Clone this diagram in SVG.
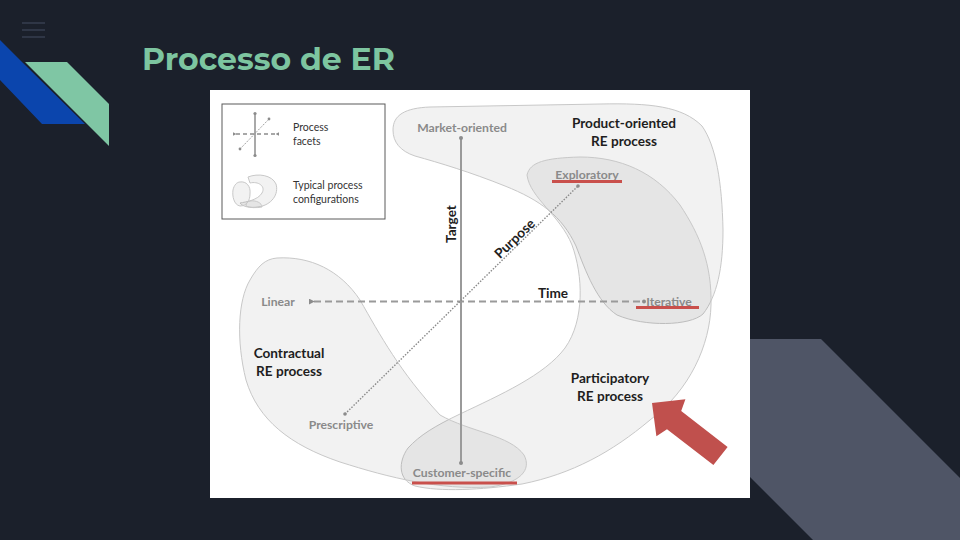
<svg xmlns="http://www.w3.org/2000/svg" width="960" height="540" viewBox="0 0 960 540">
  <style>
    .bold { font-family: Lato, "Open Sans", sans-serif; font-weight: 700; fill: #1e1e1e; font-size: 13.6px; }
    .grey { font-family: Lato, "Open Sans", sans-serif; font-weight: 700; fill: #8a8a8a; font-size: 12.2px; }
    .leg { font-family: Lato, "Open Sans", sans-serif; font-weight: 400; fill: #333; font-size: 10.5px; }
    .blob { fill: #000; fill-opacity: 0.05; stroke: #c8c8c8; stroke-width: 1; }
    .ul { stroke: #c9504c; stroke-width: 3; }
    .dot { fill: #8c8c8c; }
  </style>
  <defs>
    <marker id="arrL" viewBox="0 0 8 8" refX="1" refY="4" markerWidth="3" markerHeight="3" orient="auto-start-reverse">
      <path d="M8,0 L0,4 L8,8 Z" fill="#8c8c8c"/>
    </marker>
  </defs>

  <!-- background -->
  <rect x="0" y="0" width="960" height="540" fill="#1b202b"/>
  <g id="menu-icon" stroke="#2f3646" stroke-width="2">
    <line x1="22" y1="23" x2="45" y2="23"/>
    <line x1="22" y1="30" x2="45" y2="30"/>
    <line x1="22" y1="37" x2="45" y2="37"/>
  </g>
  <polygon id="stripe-blue" points="0,40 22,62 85,124 42,124 0,80" fill="#0b45ad"/>
  <polygon id="stripe-green" points="25,62 67,62 109,104 109,146" fill="#7fc6a4"/>
  <polygon id="stripe-grey" points="700,339 821,339 960,478 960,540 813,540 700,427" fill="#4f5566"/>
  <text id="title" x="142" y="70" font-family="Montserrat, 'Open Sans', sans-serif" font-weight="700" font-size="31.5" fill="#7dc5a0">Processo de ER</text>

  <!-- image panel -->
  <rect id="panel" x="210" y="90" width="540" height="408" fill="#ffffff"/>

  <!-- legend -->
  <g id="legend">
    <rect x="222" y="104" width="163" height="115" fill="none" stroke="#5a5a5a" stroke-width="1"/>
    <line x1="255" y1="114" x2="255" y2="155" stroke="#8c8c8c" stroke-width="1.5"/>
    <circle cx="255" cy="113.5" r="1.6" class="dot"/>
    <circle cx="255" cy="155.5" r="1.6" class="dot"/>
    <line x1="236" y1="134" x2="276" y2="134" stroke="#8c8c8c" stroke-width="1.3" stroke-dasharray="4,3" marker-start="url(#arrL)" marker-end="url(#arrL)"/>
    <line x1="240" y1="149" x2="269" y2="119" stroke="#8c8c8c" stroke-width="1" stroke-dasharray="1.2,1.2"/>
    <circle cx="240" cy="149" r="1.4" class="dot"/>
    <circle cx="269" cy="119" r="1.4" class="dot"/>
    <text class="leg" x="293" y="131">Process</text>
    <text class="leg" x="293" y="145">facets</text>
    <path class="blob" d="M248,177 C258,173 272,175 276,184 C279,194 272,205 258,207 C250,208 243,207 240,203 C246,202 258,200 262,193 C266,186 258,181 250,183 Z"/>
    <path class="blob" d="M240,182 C246,181 251,186 250,194 C250,200 247,206 240,206 C234,205 232,196 233,190 C234,185 237,182 240,182 Z"/>
    <path class="blob" d="M250,201 C256,200 262,203 262,207 C256,208 250,208 246,206 C246,203 248,201 250,201 Z"/>
    <text class="leg" x="293" y="189">Typical process</text>
    <text class="leg" x="293" y="203">configurations</text>
  </g>

  <!-- configurations -->
  <g id="product-oriented">
    <path class="blob" d="M393,130 C393,115 405,108 430,107 L600,104 C650,103 682,106 702,126 C716,146 722,182 723,230 C723,268 717,296 703,314 C690,326 645,327 617,315 C597,302 586,272 576,246 C562,216 540,200 505,186 C470,172 440,163 415,156 C400,151 393,142 393,130 Z"/>
    <text class="bold" x="624" y="128" text-anchor="middle">Product-oriented</text>
    <text class="bold" x="624" y="146" text-anchor="middle">RE process</text>
  </g>
  <g id="participatory">
    <path class="blob" d="M527,175 C530,162 545,158 580,157 C620,157 655,172 680,205 C700,235 712,265 711,305 C710,345 690,390 650,420 C612,452 572,474 522,484 C480,490 440,492 415,486 C398,480 398,462 408,448 C420,435 435,426 460,414 C500,395 545,375 565,348 C585,320 583,275 572,245 C560,215 530,198 527,175 Z"/>
    <text class="bold" x="610" y="383" text-anchor="middle">Participatory</text>
    <text class="bold" x="610" y="401" text-anchor="middle">RE process</text>
  </g>
  <g id="contractual">
    <path class="blob" d="M277,258 C310,256 340,270 360,300 C380,335 400,372 440,415 C470,432 510,435 524,455 C532,470 520,483 490,487 C440,490 390,478 340,462 C290,445 258,420 246,380 C236,340 238,300 250,280 C258,266 265,259 277,258 Z"/>
    <text class="bold" x="289" y="358" text-anchor="middle">Contractual</text>
    <text class="bold" x="289" y="376" text-anchor="middle">RE process</text>
  </g>

  <!-- facets / connectors -->
  <g id="connectors">
    <line id="target-axis" x1="461" y1="138" x2="461" y2="463" stroke="#9a9a9a" stroke-width="2"/>
    <circle cx="461" cy="138" r="2" class="dot"/>
    <circle cx="461" cy="463" r="2" class="dot"/>
    <line id="time-axis" x1="314" y1="301.5" x2="643" y2="301.5" stroke="#9a9a9a" stroke-width="2" stroke-dasharray="7,4" marker-start="url(#arrL)"/>
    <circle cx="644" cy="301.5" r="2" class="dot"/>
    <line id="purpose-axis" x1="345" y1="414" x2="578" y2="186" stroke="#8a8a8a" stroke-width="1.4" stroke-dasharray="1.5,1.5"/>
    <circle cx="345" cy="414" r="1.8" class="dot"/>
    <circle cx="578" cy="186" r="1.8" class="dot"/>
  </g>

  <!-- facet labels -->
  <g id="facet-labels">
    <text class="bold" x="456" y="224" text-anchor="middle" transform="rotate(-90 456 224)">Target</text>
    <text class="bold" x="518" y="242" text-anchor="middle" transform="rotate(-44 518 242)">Purpose</text>
    <text class="bold" x="553" y="298" text-anchor="middle">Time</text>
  </g>

  <g id="facet-values">
    <text class="grey" x="462" y="132" text-anchor="middle">Market-oriented</text>
    <text class="grey" x="587" y="179" text-anchor="middle">Exploratory</text>
    <line class="ul" x1="552" y1="181.5" x2="622" y2="181.5"/>
    <text class="grey" x="669" y="306" text-anchor="middle">Iterative</text>
    <line class="ul" x1="636" y1="307.5" x2="699" y2="307.5"/>
    <text class="grey" x="278" y="306" text-anchor="middle">Linear</text>
    <text class="grey" x="341" y="429" text-anchor="middle">Prescriptive</text>
    <text class="grey" x="462" y="477" text-anchor="middle">Customer-specific</text>
    <line class="ul" x1="412" y1="483" x2="517" y2="483"/>
  </g>

  <!-- red arrow -->
  <polygon id="red-arrow" points="652,403 685.4,399.3 681.2,411.1 727.6,446.9 713.4,465.1 667,429.3 656.4,436.3" fill="#c0504d"/>
</svg>
